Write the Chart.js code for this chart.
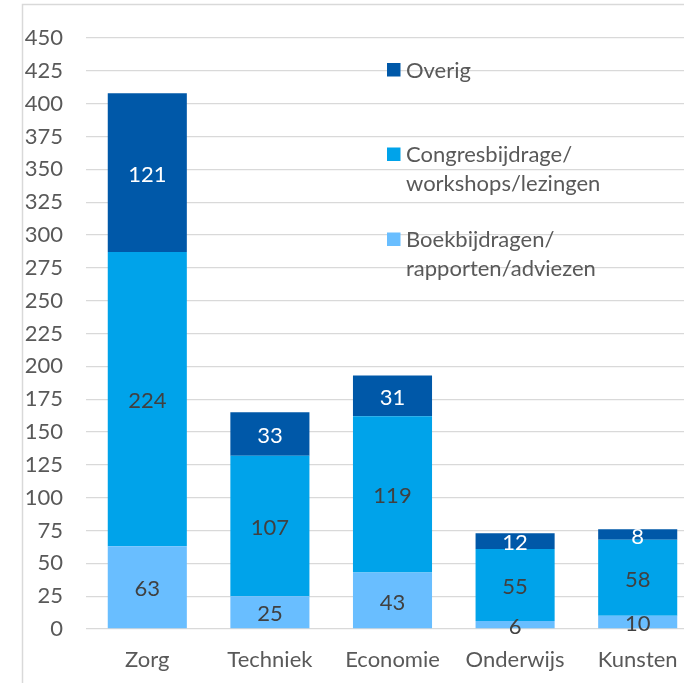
<!DOCTYPE html>
<html>
<head>
<meta charset="utf-8">
<script src="https://cdn.jsdelivr.net/npm/chart.js@4"></script>
<style>
  html, body { margin: 0; padding: 0; background: #ffffff; overflow: hidden; width: 684px; height: 683px; }
  canvas { display: block; }
</style>
</head>
<body>
<canvas id="c" width="720" height="683"></canvas>
<script>
// ---- Data ----
const categories = ['Zorg', 'Techniek', 'Economie', 'Onderwijs', 'Kunsten'];
const boekbijdragen = [63, 25, 43, 6, 10];
const congresbijdragen = [224, 107, 119, 55, 58];
const overig = [121, 33, 31, 12, 8];
const seriesLabels = ['Boekbijdragen/\nrapporten/adviezen', 'Congresbijdrage/\nworkshops/lezingen', 'Overig'];
const seriesColors = ['#69BEFF', '#00A3EA', '#0058A8'];
const labelColors = ['#404040', '#404040', '#ffffff'];
const yTicksMax = 450;
const yTickStep = 25;

const FONT = 'Lato, "Open Sans", sans-serif';
const FSIZE = 22;

const framePlugin = {
  id: 'frame',
  beforeDraw(chart) {
    const ctx = chart.ctx;
    ctx.save();
    ctx.fillStyle = '#ffffff';
    ctx.fillRect(0, 0, chart.width, chart.height);
    ctx.strokeStyle = '#D9D9D9';
    ctx.lineWidth = 1.5;
    ctx.beginPath();
    ctx.moveTo(22.5, chart.height);
    ctx.lineTo(22.5, 4.5);
    ctx.lineTo(chart.width, 4.5);
    ctx.stroke();
    ctx.restore();
  }
};

const valueLabelPlugin = {
  id: 'valueLabels',
  afterDatasetsDraw(chart) {
    const ctx = chart.ctx;
    ctx.save();
    ctx.font = FSIZE + 'px ' + FONT;
    ctx.textAlign = 'center';
    ctx.textBaseline = 'middle';
    chart.data.datasets.forEach((ds, di) => {
      const meta = chart.getDatasetMeta(di);
      meta.data.forEach((bar, i) => {
        const v = ds.data[i];
        const y = (bar.y + bar.base) / 2 + 2;
        ctx.fillStyle = labelColors[di];
        ctx.fillText(String(v), bar.x, y);
      });
    });
    ctx.restore();
  }
};

const legendPlugin = {
  id: 'customLegend',
  afterDraw(chart) {
    const ctx = chart.ctx;
    ctx.save();
    ctx.font = FSIZE + 'px ' + FONT;
    ctx.textAlign = 'left';
    ctx.textBaseline = 'middle';
    const order = [2, 1, 0];
    const ys = [69.5, 154, 239];
    order.forEach((si, k) => {
      const y = ys[k];
      ctx.fillStyle = seriesColors[si];
      ctx.fillRect(387, y - 6.5, 13.5, 13.5);
      ctx.fillStyle = '#595959';
      seriesLabels[si].split('\n').forEach((line, li) => {
        ctx.fillText(line, 406, y + 1 + li * 29);
      });
    });
    ctx.restore();
  }
};

new Chart(document.getElementById('c'), {
  type: 'bar',
  data: {
    labels: categories,
    datasets: [
      { label: seriesLabels[0], data: boekbijdragen, backgroundColor: seriesColors[0] },
      { label: seriesLabels[1], data: congresbijdragen, backgroundColor: seriesColors[1] },
      { label: seriesLabels[2], data: overig, backgroundColor: seriesColors[2] }
    ]
  },
  options: {
    responsive: false,
    animation: false,
    events: [],
    layout: { padding: { left: 22, right: 21, top: 38, bottom: 0 } },
    datasets: { bar: { categoryPercentage: 1.0, barPercentage: 0.645, borderWidth: 0 } },
    plugins: { legend: { display: false }, tooltip: { enabled: false }, title: { display: false } },
    scales: {
      x: {
        stacked: true,
        grid: { display: false, drawTicks: false },
        border: { display: false },
        ticks: { color: '#595959', font: { family: FONT, size: FSIZE }, padding: 18 },
        afterFit(scale) { scale.height = 54; }
      },
      y: {
        stacked: true,
        min: 0,
        max: yTicksMax,
        ticks: { stepSize: yTickStep, color: '#595959', font: { family: FONT, size: FSIZE }, padding: 23 },
        grid: { color: '#D9D9D9', lineWidth: 1.3, drawTicks: false },
        border: { display: false },
        afterFit(scale) { scale.width = 64; }
      }
    }
  },
  plugins: [framePlugin, valueLabelPlugin, legendPlugin]
});
</script>
</body>
</html>
